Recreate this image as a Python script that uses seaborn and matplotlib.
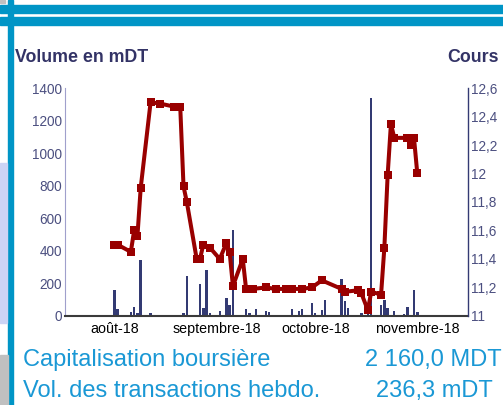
import matplotlib
matplotlib.use("Agg")
import matplotlib.pyplot as plt
import matplotlib.patches as mpatches
import pandas as pd
import seaborn as sns

# Price (Cours) by trading day
price_dates = [
    "2018-08-01", "2018-08-02", "2018-08-06", "2018-08-07", "2018-08-08", "2018-08-09",
    "2018-08-12", "2018-08-15", "2018-08-19", "2018-08-21", "2018-08-22", "2018-08-23",
    "2018-08-26", "2018-08-27", "2018-08-28", "2018-08-30", "2018-09-02", "2018-09-04",
    "2018-09-05", "2018-09-06", "2018-09-09", "2018-09-10", "2018-09-12", "2018-09-16",
    "2018-09-19", "2018-09-22", "2018-09-24", "2018-09-27", "2018-09-30", "2018-10-03",
    "2018-10-09", "2018-10-10", "2018-10-14", "2018-10-15", "2018-10-17", "2018-10-18",
    "2018-10-21", "2018-10-22", "2018-10-23", "2018-10-24", "2018-10-25", "2018-10-29",
    "2018-10-30", "2018-10-31", "2018-11-01",
]
price = [
    11.50, 11.50, 11.45, 11.60, 11.56, 11.90,
    12.50, 12.49, 12.47, 12.47, 11.91, 11.80,
    11.40, 11.40, 11.50, 11.48, 11.40, 11.51,
    11.45, 11.21, 11.40, 11.19, 11.19, 11.20,
    11.19, 11.19, 11.19, 11.19, 11.20, 11.25,
    11.19, 11.17, 11.18, 11.16, 11.04, 11.17,
    11.15, 11.48, 11.99, 12.35, 12.25, 12.25,
    12.20, 12.25, 12.00,
]

# Daily traded volume in mDT
vol_dates = [
    "2018-08-01", "2018-08-02", "2018-08-06", "2018-08-07", "2018-08-08", "2018-08-09",
    "2018-08-12", "2018-08-19", "2018-08-22", "2018-08-23", "2018-08-26", "2018-08-27",
    "2018-08-28", "2018-08-29", "2018-08-30", "2018-09-02", "2018-09-04", "2018-09-05",
    "2018-09-06", "2018-09-10", "2018-09-11", "2018-09-13", "2018-09-16", "2018-09-17",
    "2018-09-19", "2018-09-20", "2018-09-24", "2018-09-26", "2018-09-27", "2018-09-30",
    "2018-10-01", "2018-10-03", "2018-10-04", "2018-10-09", "2018-10-10", "2018-10-11",
    "2018-10-15", "2018-10-17", "2018-10-18", "2018-10-21", "2018-10-22", "2018-10-23",
    "2018-10-25", "2018-10-28", "2018-10-29", "2018-10-31", "2018-11-01",
]
volume = [
    160, 41, 23, 53, 16, 344,
    16, 5, 16, 245, 8, 196,
    47, 282, 16, 31, 109, 68,
    528, 41, 16, 41, 31, 23,
    8, 8, 41, 31, 41, 78,
    16, 37, 98, 226, 92, 47,
    16, 68, 1337, 68, 98, 47,
    31, 10, 53, 160, 23,
]

month_ticks = ["2018-08-01", "2018-09-01", "2018-10-01", "2018-11-01"]
month_labels = ["août-18", "septembre-18", "octobre-18", "novembre-18"]
left_ticks = [0, 200, 400, 600, 800, 1000, 1200, 1400]
right_ticks = [11, 11.2, 11.4, 11.6, 11.8, 12, 12.2, 12.4, 12.6]

start = pd.Timestamp("2018-08-01")
price_df = pd.DataFrame({"day": (pd.to_datetime(price_dates) - start).days, "cours": price})
vol_df = pd.DataFrame({"day": (pd.to_datetime(vol_dates) - start).days, "volume": volume})
tick_days = (pd.to_datetime(month_ticks) - start).days

sns.set_style("white")
plt.rcParams["font.family"] = ["Liberation Sans", "DejaVu Sans"]

navy = "#333a73"
tick_col = "#4b4f80"
red = "#990000"
frame_blue = "#0095c6"
text_blue = "#1a98d5"

fig = plt.figure(figsize=(5.03, 4.05), dpi=100)
ax = fig.add_axes([0.1292, 0.2198, 0.8012, 0.5629])

# Volume bars
sns.barplot(data=vol_df, x="day", y="volume", native_scale=True, width=0.75,
            color=navy, saturation=1, errorbar=None, linewidth=0, ax=ax)
ax.set_ylim(0, 1400)
ax.set_yticks(left_ticks)
ax.set_yticklabels([str(t) for t in left_ticks])
ax.set_xlim(-15, 107.4)
ax.set_xticks(tick_days)
ax.set_xticklabels(month_labels)
ax.set_xlabel("")
ax.set_ylabel("")

# Price line on secondary axis
ax2 = ax.twinx()
sns.lineplot(data=price_df, x="day", y="cours", color=red, linewidth=2.9,
             marker="s", markersize=5.5, markeredgewidth=0, ax=ax2)
ax2.set_ylim(11, 12.6)
ax2.set_yticks(right_ticks)
ax2.set_yticklabels([f"{t:g}".replace(".", ",") for t in right_ticks])
ax2.set_xlim(-15, 107.4)
ax2.set_ylabel("")

for a in (ax, ax2):
    a.spines["top"].set_visible(False)
    a.tick_params(length=0, labelsize=9.8, colors=tick_col, pad=2)
ax.tick_params(axis="x", colors="black", labelsize=10.3, pad=4)
ax.spines["left"].set_color("#a0a0cc")
ax.spines["right"].set_visible(False)
ax.spines["bottom"].set_color("#3a3a3a")
ax.spines["bottom"].set_linewidth(1.5)
ax2.spines["left"].set_visible(False)
ax2.spines["bottom"].set_visible(False)
ax2.spines["right"].set_color(navy)
ax2.spines["right"].set_linewidth(1.0)

# Titles
fig.text(15 / 503, 1 - 57 / 405, "Volume en mDT", fontsize=12.8, fontweight="bold",
         color="#333366", va="center", ha="left")
fig.text(499 / 503, 1 - 57 / 405, "Cours", fontsize=12.8, fontweight="bold",
         color="#333366", va="center", ha="right")

# Footer info
fig.text(23 / 503, 1 - 360 / 405, "Capitalisation boursière", fontsize=17,
         color=text_blue, va="center", ha="left")
fig.text(23 / 503, 1 - 391 / 405, "Vol. des transactions hebdo.", fontsize=17,
         color=text_blue, va="center", ha="left")
fig.text(502 / 503, 1 - 360 / 405, "2 160,0 MDT", fontsize=17,
         color=text_blue, va="center", ha="right")
fig.text(493 / 503, 1 - 391 / 405, "236,3 mDT", fontsize=17,
         color=text_blue, va="center", ha="right")

# Page frame decorations
def px_rect(x0, y0, x1, y1, color):
    fig.patches.append(mpatches.Rectangle((x0 / 503, 1 - y1 / 405), (x1 - x0) / 503,
                                          (y1 - y0) / 405, transform=fig.transFigure,
                                          color=color, zorder=-1))

px_rect(0, 5, 503, 13, frame_blue)
px_rect(0, 17, 503, 25, frame_blue)
px_rect(8, 0, 13, 405, frame_blue)
px_rect(0, 163, 7, 323, "#ccd4f5")
px_rect(0, 355, 8, 405, "#c0c0c0")
px_rect(0, 0, 5, 3, "#c0c0c0")

fig.savefig("out.png", dpi=100)
